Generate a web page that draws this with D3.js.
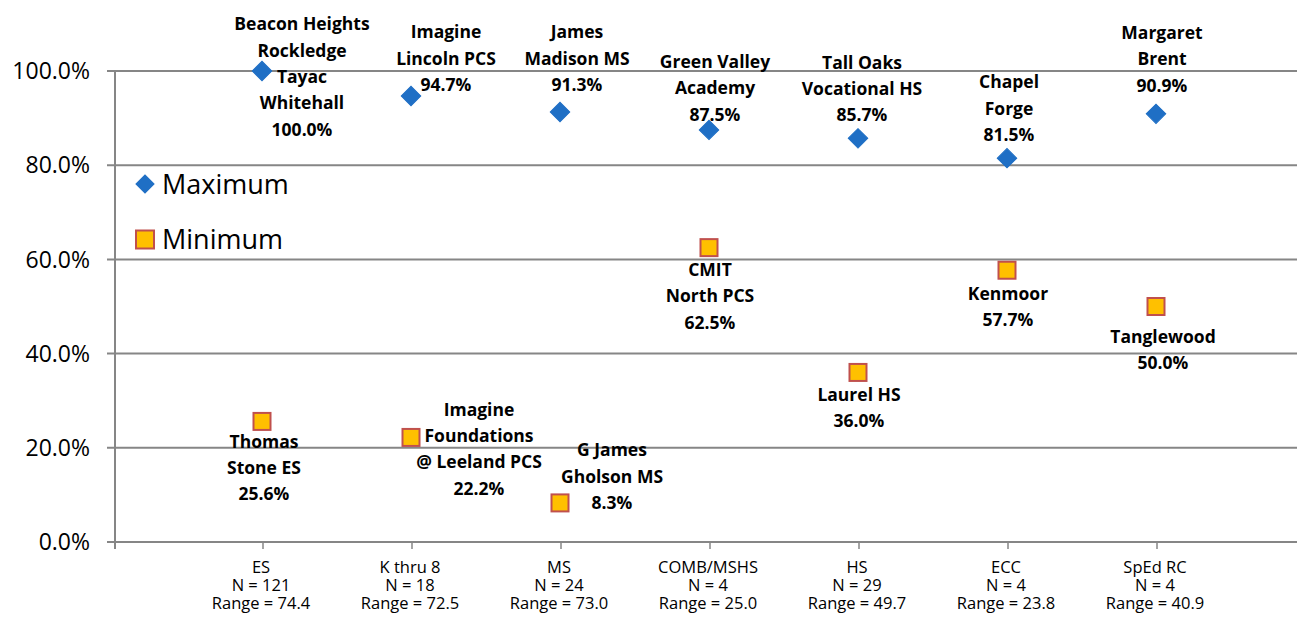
<!DOCTYPE html>
<html>
<head>
<meta charset="utf-8">
<script src="https://cdn.jsdelivr.net/npm/d3@7"></script>
<style>
  body { margin: 0; background: #fff; }
  text { font-family: "Open Sans", sans-serif; }
</style>
</head>
<body>
<svg id="chart" width="1297" height="620"></svg>
<script>
"use strict";

// categories and the lines under them
var categories = ["ES", "K thru 8", "MS", "COMB/MSHS", "HS", "ECC", "SpEd RC"];
var counts = [121, 18, 24, 4, 29, 4, 4];
var ranges = ["74.4", "72.5", "73.0", "25.0", "49.7", "23.8", "40.9"];

// series values (percent)
var maxValues = [100.0, 94.7, 91.3, 87.5, 85.7, 81.5, 90.9];
var minValues = [25.6, 22.2, 8.3, 62.5, 36.0, 57.7, 50.0];

// school names for the labels
var maxNames = [
  ["Beacon Heights", "Rockledge", "Tayac", "Whitehall"],
  ["Imagine", "Lincoln PCS"],
  ["James", "Madison MS"],
  ["Green Valley", "Academy"],
  ["Tall Oaks", "Vocational HS"],
  ["Chapel", "Forge"],
  ["Margaret", "Brent"]
];
var minNames = [
  ["Thomas", "Stone ES"],
  ["Imagine", "Foundations", "@ Leeland PCS"],
  ["G James", "Gholson MS"],
  ["CMIT", "North PCS"],
  ["Laurel HS"],
  ["Kenmoor"],
  ["Tanglewood"]
];

var yTicks = [0, 20, 40, 60, 80, 100];

// label offsets from the marker (dragged by hand in the original)
var maxLabelOffset = [[40, -47], [35, -64], [17, -80], [6, -68], [4, -76], [2, -76], [6, -81]];
var minLabelOffset = [[2, 20], [68, -28], [52, -53], [1, 22], [1, 22], [1, 23], [7, 30]];

var svg = d3.select("#chart");
var width = +svg.attr("width");
var lineH = 26.3;

var x = d3.scaleLinear().domain([0, 8]).range([113, 1305]);
var y = d3.scaleLinear().domain([0, 100]).range([542, 71]);

var grey = "#868686";

// gridlines
svg.append("g")
  .selectAll("line")
  .data(yTicks)
  .enter()
  .append("line")
    .attr("x1", 107)
    .attr("x2", width)
    .attr("y1", function(d) { return y(d) })
    .attr("y2", function(d) { return y(d) })
    .style("stroke", grey)
    .style("stroke-width", 2)

// y axis line
svg.append("line")
  .attr("x1", 115).attr("x2", 115)
  .attr("y1", y(100)).attr("y2", y(0) + 7)
  .style("stroke", grey)
  .style("stroke-width", 2)

// y tick labels
svg.append("g")
  .selectAll("text")
  .data(yTicks)
  .enter()
  .append("text")
    .attr("x", 90)
    .attr("y", function(d) { return y(d) })
    .attr("dy", "0.36em")
    .attr("text-anchor", "end")
    .style("font-size", "23px")
    .style("fill", "#000")
    .text(function(d) { return d3.format(".1f")(d) + "%" })

// x ticks and labels
var xg = svg.append("g")
  .selectAll("g")
  .data(categories)
  .enter()
  .append("g")
    .attr("transform", function(d, i) { return "translate(" + (x(i + 1) + 1) + "," + y(0) + ")" })

xg.append("line")
  .attr("y1", 0).attr("y2", 7)
  .style("stroke", grey)
  .style("stroke-width", 1.5)

xg.append("text")
  .attr("text-anchor", "middle")
  .style("font-size", "16.5px")
  .style("fill", "#000")
  .each(function(d, i) {
    var t = d3.select(this)
    var lines = [d, "N = " + counts[i], "Range = " + ranges[i]]
    lines.forEach(function(s, k) {
      t.append("tspan").attr("x", -2).attr("y", 31 + k * 18).text(s)
    })
  })

// markers
var diamond = d3.symbol().type(d3.symbolSquare).size(190)

svg.append("g")
  .selectAll("path")
  .data(maxValues)
  .enter()
  .append("path")
    .attr("d", diamond)
    .attr("transform", function(d, i) { return "translate(" + x(i + 1) + "," + y(d) + ") rotate(45)" })
    .style("fill", "#1f6fc5")
    .style("stroke", "#1f6fc5")
    .style("stroke-width", 1)

svg.append("g")
  .selectAll("rect")
  .data(minValues)
  .enter()
  .append("rect")
    .attr("x", function(d, i) { return x(i + 1) - 8.5 })
    .attr("y", function(d) { return y(d) - 8.5 })
    .attr("width", 17)
    .attr("height", 17)
    .style("fill", "#ffc000")
    .style("stroke", "#c0504d")
    .style("stroke-width", 2)

// data labels
function addLabels(values, names, offsets) {
  svg.append("g")
    .selectAll("text")
    .data(values)
    .enter()
    .append("text")
      .attr("text-anchor", "middle")
      .style("font-size", "17.5px")
      .style("font-weight", "bold")
      .style("fill", "#000")
      .each(function(d, i) {
        var t = d3.select(this)
        var lines = names[i].concat([d3.format(".1f")(d) + "%"])
        var cx = x(i + 1) + offsets[i][0]
        var cy = y(d) + offsets[i][1]
        lines.forEach(function(s, k) {
          t.append("tspan")
            .attr("x", cx)
            .attr("y", cy + k * lineH)
            .attr("dy", "0.36em")
            .text(s)
        })
      })
}
addLabels(maxValues, maxNames, maxLabelOffset)
addLabels(minValues, minNames, minLabelOffset)

// legend
var legend = svg.append("g")
legend.append("path")
  .attr("d", diamond)
  .attr("transform", "translate(145,184) rotate(45)")
  .style("fill", "#1f6fc5")
legend.append("rect")
  .attr("x", 136).attr("y", 230.5)
  .attr("width", 18).attr("height", 18)
  .style("fill", "#ffc000")
  .style("stroke", "#c0504d")
  .style("stroke-width", 2)
legend.selectAll("text")
  .data(["Maximum", "Minimum"])
  .enter()
  .append("text")
    .attr("x", 162)
    .attr("y", function(d, i) { return 184 + i * 55.5 })
    .attr("dy", "0.36em")
    .style("font-size", "27px")
    .style("fill", "#000")
    .text(function(d) { return d })
</script>
</body>
</html>
